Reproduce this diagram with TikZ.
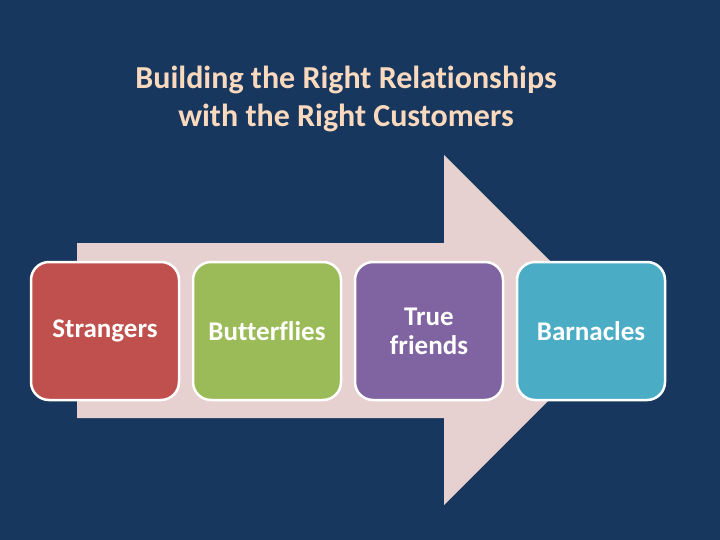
\documentclass[tikz,border=0pt]{standalone}
\usepackage{fontspec}
\setmainfont[Ligatures=NoCommon]{Carlito}
\usepackage{tikz}

\definecolor{navy}{HTML}{17375E}
\definecolor{arrowpink}{HTML}{E6D0D0}
\definecolor{titlepeach}{HTML}{FAD9BE}
\definecolor{cred}{HTML}{C0504D}
\definecolor{cgreen}{HTML}{9BBB59}
\definecolor{cpurple}{HTML}{8064A2}
\definecolor{cteal}{HTML}{4BACC6}

\begin{document}
\begin{tikzpicture}
[x=1pt,y=-1pt]
\tikzset{card/.style={draw=white,line width=2.5pt,rounded corners=18pt,minimum width=148pt,minimum height=138pt,text=white,align=center,font=\bfseries\fontsize{27}{29}\selectfont}}
\tikzset{heading/.style={text=titlepeach,align=center,font=\bfseries\fontsize{32}{38}\selectfont}}
\useasboundingbox (0,0) rectangle (720,540);
\fill [navy] (0,0) rectangle (720,540);
\fill [arrowpink] (77,243) -- (444,243) -- (444,155) -- (619,330) -- (444,505) -- (444,418) -- (77,418) -- cycle;

\node [heading] (title) at (346,99) {Building the Right Relationships\\with the Right Customers};

\foreach \name/\x/\col/\txt in {strangers/105/cred/Strangers,butterflies/267/cgreen/Butterflies,friends/429/cpurple/True\\friends,barnacles/591/cteal/Barnacles}
	\node [card,fill=\col] (\name) at (\x,331) {\txt};
\end{tikzpicture}
\end{document}
